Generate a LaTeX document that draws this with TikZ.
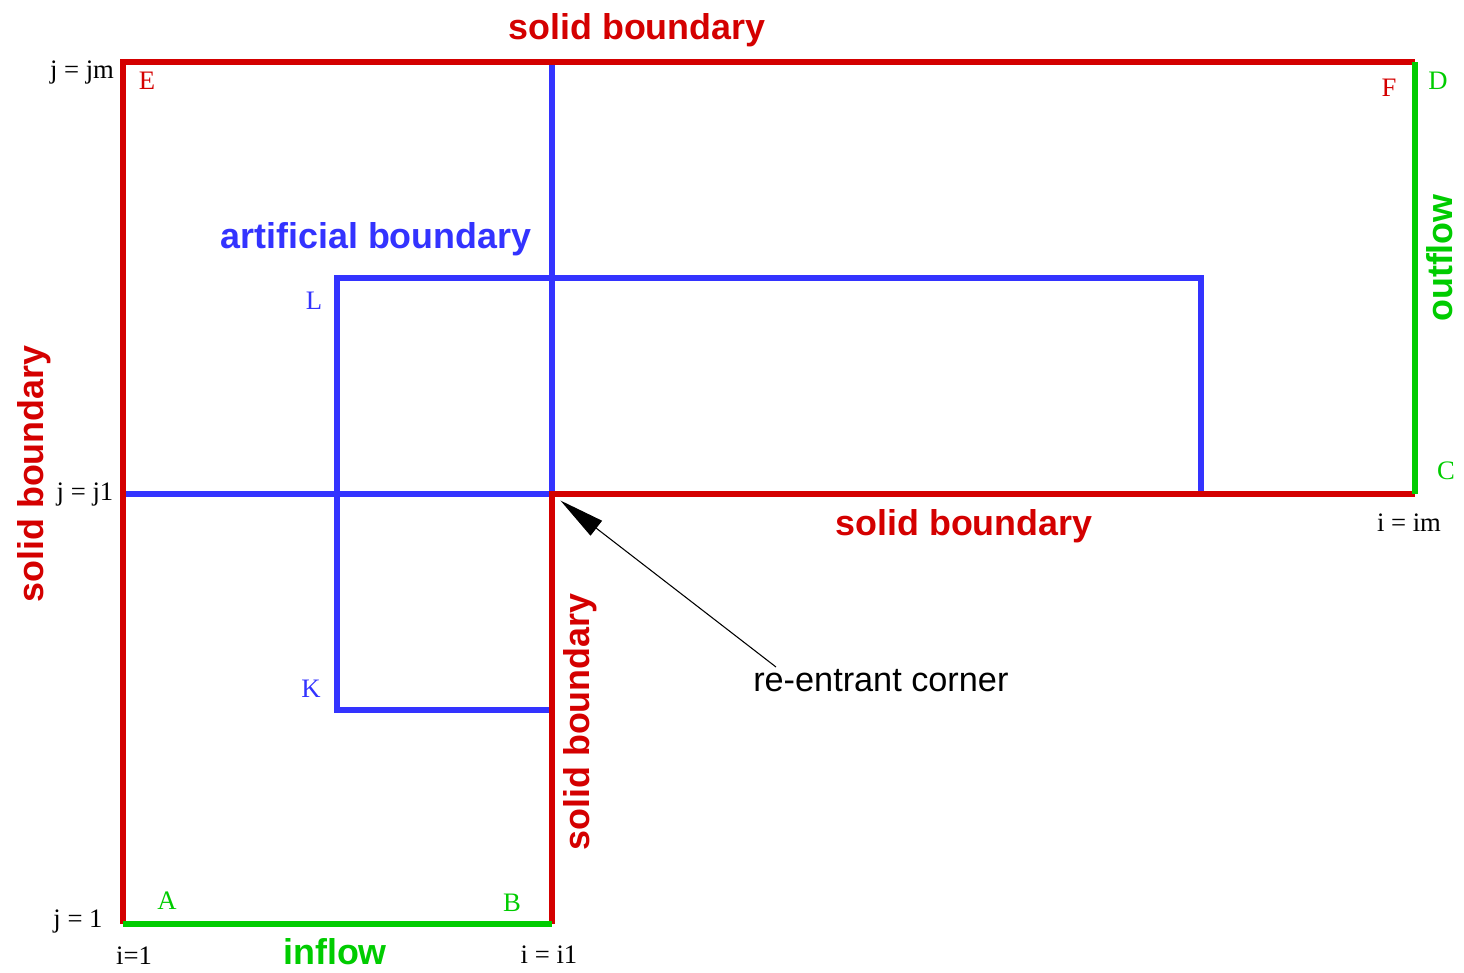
\documentclass[tikz,border=0pt]{standalone}
\usepackage{fontspec}
\setmainfont{Liberation Serif}
\newfontfamily\labelsans{Liberation Sans}
\usetikzlibrary{arrows.meta}
\definecolor{wallred}{RGB}{212,0,0}
\definecolor{cutblue}{RGB}{51,51,255}
\definecolor{flowgreen}{RGB}{0,204,0}
\begin{document}
\begin{tikzpicture}[x=0.75pt,y=-0.75pt,
  wall/.style={wallred, line width=4pt},
  cut/.style={cutblue, line width=4pt},
  flow/.style={flowgreen, line width=4pt},
  idx/.style={font=\fontsize{20}{22}\selectfont, inner sep=0pt},
  big/.style={font=\labelsans\bfseries\fontsize{26.9}{28}\selectfont, inner sep=0pt},
  plain/.style={font=\labelsans\fontsize{25.7}{27}\selectfont, inner sep=0pt},
]
\useasboundingbox (0,0) rectangle (1464,972);

% grid corners
\coordinate (A0) at (123,924);
\coordinate (B0) at (552,924);
\coordinate (J1L) at (123,494);
\coordinate (R) at (552,494);
\coordinate (C0) at (1415,494);
\coordinate (D0) at (1415,62);
\coordinate (E0) at (123,62);
\coordinate (T1) at (552,62);
% artificial boundary corners
\coordinate (L0) at (337,278);
\coordinate (K0) at (337,710);
\coordinate (K1) at (552,710);
\coordinate (M0) at (1201,278);
\coordinate (M1) at (1201,494);

% artificial boundary
\draw[cut] (T1) -- (R);
\draw[cut] (J1L) -- (R);
\draw[cut] (K1) -- (K0) -- (L0) -- (M0) -- (M1);

% solid walls
\draw[wall] (A0) -- (E0) -- (D0);
\draw[wall] (B0) -- (R) -- (C0);

% inflow and outflow
\draw[flow] (A0) -- (B0);
\draw[flow] (D0) -- (C0);

% corner letters
\node[idx, wallred] (lE) at (147,81) {E};
\node[idx, wallred] (lF) at (1389,88) {F};
\node[idx, flowgreen] (lD) at (1438,81) {D};
\node[idx, flowgreen] (lC) at (1446,471) {C};
\node[idx, flowgreen] (lA) at (167,901) {A};
\node[idx, flowgreen] (lB) at (512,903) {B};
\node[idx, cutblue] (lL) at (314,301) {L};
\node[idx, cutblue] (lK) at (311,689) {K};

% index labels
\node[idx] (jm) at (82,73) {j = jm};
\node[idx] (jj1) at (85,494) {j = j1};
\node[idx] (j1) at (78,921) {j = 1};
\node[idx] (i1) at (134,956) {i=1};
\node[idx] (ii1) at (549,955) {i = i1};
\node[idx] (im) at (1409,523) {i = im};

% boundary names
\node[big, wallred] (sbTop) at (637,30) {solid boundary};
\node[big, wallred, rotate=90] (sbLeft) at (34,474) {solid boundary};
\node[big, wallred, rotate=90] (sbMid) at (580,722) {solid boundary};
\node[big, wallred] (sbRight) at (964,526) {solid boundary};
\node[big, cutblue] (ab) at (376,239) {artificial boundary};
\node[big, flowgreen] (inflow) at (335,952) {inflow};
\node[big, flowgreen, rotate=90] (outflow) at (1440,258) {outflow};

% re-entrant corner callout
\node[plain, anchor=west] (rc) at (753,681) {re-entrant corner};
\coordinate (rcEnd) at (776,667);
\draw[-{Triangle[length=34pt,width=14pt]}, line width=0.8pt, shorten >=8pt] (rcEnd) -- (R);
\end{tikzpicture}
\end{document}
